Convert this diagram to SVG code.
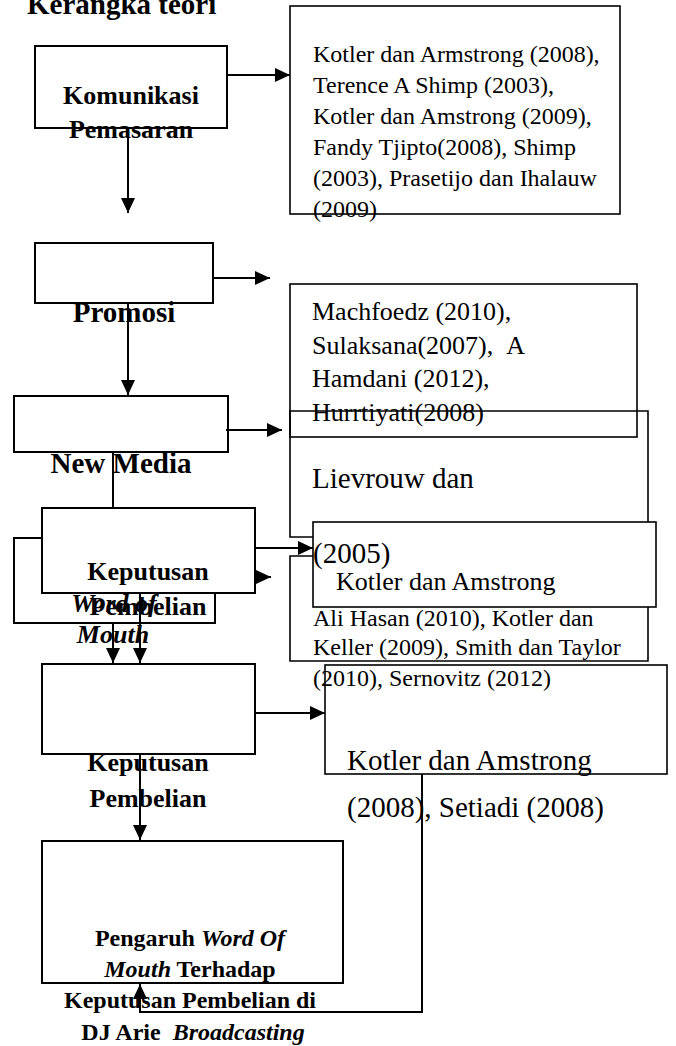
<svg xmlns="http://www.w3.org/2000/svg" width="676" height="1046" viewBox="0 0 676 1046">
<defs>
<style>
.bx{fill:none;stroke:#000;stroke-width:2}
.rb{fill:none;stroke:#000;stroke-width:1.6}
.ln{fill:none;stroke:#000;stroke-width:2}
.ar{fill:none;stroke:#000;stroke-width:2;marker-end:url(#ah)}
.b{font-family:"Liberation Serif","Times New Roman",serif;font-weight:bold;fill:#000;text-anchor:middle}
.bi{font-style:italic}
.r{font-family:"Liberation Serif","Times New Roman",serif;fill:#000}
</style>
<marker id="ah" markerUnits="userSpaceOnUse" markerWidth="15" markerHeight="14" refX="15" refY="7" orient="auto">
<path d="M0,0 L15,7 L0,14 z" fill="#000"/>
</marker>
</defs>
<rect width="676" height="1046" fill="#fff"/>
<text x="27" y="14" class="r" style="font-weight:bold;font-size:29px">Kerangka teori</text>

<g id="komunikasi">
<rect x="35" y="46" width="192" height="82" class="bx"/>
<text class="b" x="131" y="104" font-size="26">Komunikasi</text>
<text class="b" x="131" y="138" font-size="26">Pemasaran</text>
</g>

<g id="ref-komunikasi">
<rect x="290" y="6" width="330" height="208" class="rb"/>
<text class="r" font-size="24">
<tspan x="313" y="62">Kotler dan Armstrong (2008),</tspan>
<tspan x="313" y="93">Terence A Shimp (2003),</tspan>
<tspan x="313" y="124">Kotler dan Amstrong (2009),</tspan>
<tspan x="313" y="155">Fandy Tjipto(2008), Shimp</tspan>
<tspan x="313" y="186">(2003), Prasetijo dan Ihalauw</tspan>
<tspan x="313" y="217">(2009)</tspan>
</text>
</g>

<g id="promosi">
<rect x="35" y="243" width="178" height="60" class="bx"/>
<text class="b" x="124" y="322" font-size="29">Promosi</text>
</g>

<g id="ref-promosi">
<rect x="290" y="284" width="347" height="153" class="rb"/>
<text class="r" font-size="26">
<tspan x="312" y="320">Machfoedz (2010),</tspan>
<tspan x="312" y="354">Sulaksana(2007), &#160;A</tspan>
<tspan x="312" y="387">Hamdani (2012),</tspan>
<tspan x="312" y="421">Hurrtiyati(2008)</tspan>
</text>
</g>

<g id="new-media">
<rect x="14" y="396" width="214" height="56" class="bx"/>
<text class="b" x="121" y="473" font-size="29">New Media</text>
</g>

<g id="ref-new-media">
<path d="M313,537 L290,537 L290,411 L648,411 L648,522" class="rb"/>
<text class="r" x="312" y="488" font-size="29">Lievrouw dan</text>
</g>

<g id="ref-word-of-mouth">
<path d="M313,556 L290,556 L290,661 L648,661 L648,607" class="rb"/>
<text class="r" font-size="24">
<tspan x="313" y="626">Ali Hasan (2010), Kotler dan</tspan>
<tspan x="313" y="655">Keller (2009), Smith dan Taylor</tspan>
<tspan x="313" y="686">(2010), Sernovitz (2012)</tspan>
</text>
</g>

<g id="ref-keputusan-1">
<rect x="313" y="522" width="343" height="85" class="rb"/>
<text class="r" x="336" y="590" font-size="26">Kotler dan Amstrong</text>
<text class="r" x="313" y="563" font-size="29">(2005)</text>
</g>

<g id="word-of-mouth">
<path d="M42,538 L14,538 L14,623 L215,623 L215,593" class="bx"/>
<text class="b bi" x="114" y="612" font-size="26">Word of</text>
<text class="b bi" x="113" y="643" font-size="26">Mouth</text>
</g>

<g id="keputusan-1">
<rect x="42" y="508" width="213" height="85" class="bx"/>
<text class="b" x="148" y="580" font-size="26">Keputusan</text>
<text class="b" x="148" y="615" font-size="26">Pembelian</text>
</g>

<g id="keputusan-2">
<rect x="42" y="664" width="213" height="90" class="bx"/>
<text class="b" x="148" y="771" font-size="26">Keputusan</text>
<text class="b" x="148" y="807" font-size="26">Pembelian</text>
</g>

<g id="ref-keputusan-2">
<rect x="325" y="665" width="342" height="109" class="rb"/>
<text class="r" font-size="29">
<tspan x="347" y="770">Kotler dan Amstrong</tspan>
<tspan x="347" y="817">(2008), Setiadi (2008)</tspan>
</text>
</g>

<g id="pengaruh">
<rect x="42" y="841" width="301" height="142" class="bx"/>
<text class="b" font-size="24">
<tspan x="193" y="946">Pengaruh <tspan class="bi">Word Of</tspan></tspan>
<tspan x="193" y="977"><tspan class="bi">Mouth</tspan> Terhadap</tspan>
<tspan x="193" y="1008">Keputusan Pembelian di</tspan>
<tspan x="193" y="1040">DJ Arie &#160;<tspan class="bi">Broadcasting</tspan></tspan>
</text>
</g>

<g id="connectors">
<line x1="227" y1="75" x2="290" y2="75" class="ar"/>
<line x1="128" y1="128" x2="128" y2="213" class="ar"/>
<line x1="213" y1="278" x2="270" y2="278" class="ar"/>
<line x1="128" y1="303" x2="128" y2="395" class="ar"/>
<line x1="226" y1="430" x2="282" y2="430" class="ar"/>
<line x1="113" y1="452" x2="113" y2="508" class="ln"/>
<line x1="255" y1="548" x2="313" y2="548" class="ar"/>
<line x1="256" y1="577" x2="271" y2="577" class="ar"/>
<line x1="140" y1="593" x2="140" y2="663" class="ar"/>
<line x1="113" y1="623" x2="113" y2="663" class="ar"/>
<line x1="255" y1="713" x2="325" y2="713" class="ar"/>
<line x1="140" y1="754" x2="140" y2="840" class="ar"/>
<polyline points="422,774 422,1012 140,1012 140,984" class="ar"/>
</g>
</svg>
